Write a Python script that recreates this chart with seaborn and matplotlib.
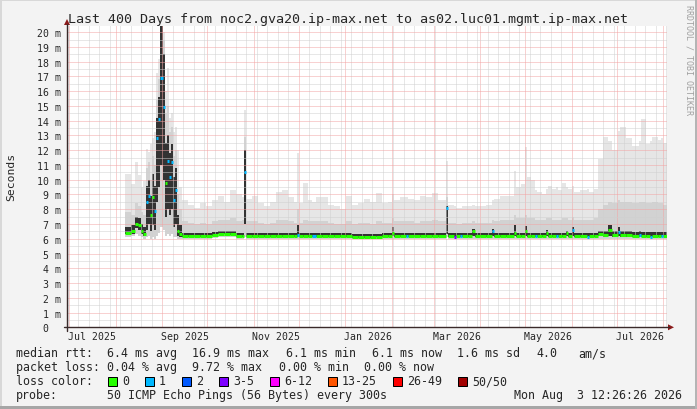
import numpy as np
import pandas as pd
import matplotlib
matplotlib.use("Agg")
import matplotlib.pyplot as plt
import matplotlib.ticker as mticker
import matplotlib.transforms as mtrans
from matplotlib.patches import Rectangle, Polygon
from matplotlib.lines import Line2D
import seaborn as sns
from datetime import datetime, timedelta

# ---------------- data ----------------
period_days = 400
end_time = datetime(2026, 8, 3, 12, 26, 26)

# start of each step, in days since the start of the 400-day window
day = [
    38.7, 42.7, 45.3, 47.3, 49.3, 50.7, 52.7, 54.0, 55.3, 56.7,
    58.0, 59.3, 60.7, 62.0, 64.0, 65.3, 66.7, 68.0, 69.3, 70.7,
    72.0, 73.3, 74.7, 76.7, 80.7, 84.7, 88.7, 92.7, 96.7, 100.7,
    104.7, 108.7, 112.7, 116.7, 117.7, 119.3, 123.3, 127.3, 131.3, 135.3,
    139.3, 143.3, 147.3, 151.3, 153.3, 154.7, 157.3, 160.7, 163.3, 166.0,
    170.0, 174.0, 178.0, 182.0, 186.0, 190.0, 194.0, 198.0, 202.0, 206.0,
    210.0, 214.0, 216.7, 218.0, 222.0, 226.0, 227.3, 231.3, 235.3, 239.3,
    243.3, 247.3, 252.7, 254.0, 258.0, 259.3, 262.0, 263.3, 267.3, 270.3,
    271.7, 275.3, 279.3, 283.3, 284.7, 288.7, 292.7, 298.0, 299.3, 302.7,
    305.3, 306.7, 309.3, 312.0, 313.3, 316.7, 319.3, 320.7, 323.3, 326.0,
    327.3, 330.0, 332.7, 334.0, 336.7, 338.0, 342.0, 346.7, 348.0, 351.3,
    354.0, 357.3, 360.7, 363.3, 367.3, 368.7, 372.7, 376.7, 381.3, 382.7,
    386.0, 388.7, 390.0, 394.0, 396.0, 397.3]

rtt_median_ms = [
    6.4, 6.5, 7.0, 6.9, 6.5, 6.3, 8.5, 8.9, 7.6, 8.8,
    7.9, 12.8, 14.1, 16.9, 14.9, 9.8, 11.3, 10.2, 11.2, 8.6,
    9.3, 6.5, 6.3, 6.2, 6.2, 6.2, 6.2, 6.2, 6.25, 6.35,
    6.35, 6.3, 6.2, 6.2, 10.5, 6.2, 6.2, 6.2, 6.2, 6.2,
    6.2, 6.2, 6.2, 6.2, 6.25, 6.2, 6.2, 6.2, 6.2, 6.2,
    6.2, 6.2, 6.2, 6.2, 6.2, 6.1, 6.1, 6.1, 6.1, 6.15,
    6.2, 6.2, 6.4, 6.2, 6.2, 6.2, 6.2, 6.2, 6.2, 6.2,
    6.2, 6.2, 8.1, 6.2, 6.15, 6.2, 6.2, 6.2, 6.2, 6.5,
    6.2, 6.2, 6.2, 6.5, 6.2, 6.2, 6.2, 6.4, 6.2, 6.2,
    6.5, 6.2, 6.2, 6.2, 6.2, 6.2, 6.4, 6.2, 6.2, 6.2,
    6.2, 6.2, 6.4, 6.2, 6.6, 6.2, 6.2, 6.15, 6.2, 6.2,
    6.3, 6.25, 6.6, 6.25, 6.45, 6.25, 6.25, 6.2, 6.25, 6.2,
    6.2, 6.15, 6.2, 6.2, 6.2, 6.2]

lost_pings = [
    0, 0, 0, 0, 0, 0, 1, 1, 0, 0,
    1, 1, 1, 1, 1, 0, 1, 1, 1, 1,
    1, 0, 0, 0, 0, 0, 0, 0, 0, 0,
    0, 0, 0, 0, 1, 0, 0, 0, 0, 0,
    0, 0, 0, 0, 1, 0, 0, 0, 1, 0,
    0, 0, 0, 0, 0, 0, 0, 0, 0, 0,
    0, 0, 0, 0, 0, 1, 0, 0, 0, 0,
    0, 0, 1, 0, 3, 0, 1, 0, 0, 0,
    0, 0, 0, 1, 0, 0, 0, 0, 0, 0,
    0, 0, 0, 1, 0, 0, 0, 0, 0, 1,
    0, 0, 0, 0, 1, 0, 0, 1, 0, 0,
    0, 0, 0, 0, 1, 0, 0, 0, 1, 0,
    0, 1, 0, 0, 1, 0]

smoke_low_ms = [
    6.1, 6.2, 6.3, 6.2, 6.1, 6.0, 6.1, 6.2, 6.0, 6.1,
    6.0, 6.2, 6.4, 6.8, 6.6, 6.2, 6.3, 6.2, 6.3, 6.1,
    6.1, 6.0, 6.0, 6.0, 6.0, 6.0, 6.0, 6.0, 6.05, 6.1,
    6.1, 6.1, 6.0, 6.0, 6.1, 6.0, 6.0, 6.0, 6.0, 6.0,
    6.0, 6.0, 6.0, 6.0, 6.0, 6.0, 6.0, 6.0, 6.0, 6.0,
    6.0, 6.0, 6.0, 6.0, 6.0, 5.95, 5.95, 5.95, 5.95, 5.95,
    6.0, 6.0, 6.0, 6.0, 6.0, 6.0, 6.0, 6.0, 6.0, 6.0,
    6.0, 6.0, 6.1, 6.0, 6.0, 6.0, 6.0, 6.0, 6.0, 6.0,
    6.0, 6.0, 6.0, 6.0, 6.0, 6.0, 6.0, 6.0, 6.0, 6.0,
    6.0, 6.0, 6.0, 6.0, 6.0, 6.0, 6.0, 6.0, 6.0, 6.0,
    6.0, 6.0, 6.0, 6.0, 6.0, 6.0, 6.0, 6.0, 6.0, 6.0,
    6.0, 6.0, 6.0, 6.0, 6.0, 6.0, 6.0, 6.0, 6.0, 6.0,
    6.0, 6.0, 6.0, 6.0, 6.0, 6.0]

smoke_p25_ms = [
    6.3, 6.35, 6.7, 6.6, 6.3, 6.2, 6.6, 7.0, 6.5, 6.9,
    6.6, 8.5, 9.5, 11.0, 10.0, 7.5, 8.0, 7.6, 8.0, 6.8,
    7.0, 6.2, 6.15, 6.15, 6.15, 6.15, 6.15, 6.15, 6.2, 6.3,
    6.3, 6.25, 6.15, 6.15, 7.0, 6.15, 6.15, 6.15, 6.15, 6.15,
    6.15, 6.15, 6.15, 6.15, 6.15, 6.15, 6.15, 6.15, 6.15, 6.15,
    6.15, 6.15, 6.15, 6.15, 6.15, 6.05, 6.05, 6.05, 6.05, 6.1,
    6.15, 6.15, 6.2, 6.15, 6.15, 6.15, 6.15, 6.15, 6.15, 6.15,
    6.15, 6.15, 6.3, 6.15, 6.1, 6.15, 6.15, 6.15, 6.15, 6.2,
    6.15, 6.15, 6.15, 6.2, 6.15, 6.15, 6.15, 6.2, 6.15, 6.15,
    6.2, 6.15, 6.15, 6.15, 6.15, 6.15, 6.2, 6.15, 6.15, 6.15,
    6.15, 6.15, 6.2, 6.15, 6.2, 6.15, 6.15, 6.1, 6.15, 6.15,
    6.2, 6.15, 6.2, 6.15, 6.2, 6.15, 6.15, 6.15, 6.15, 6.15,
    6.15, 6.1, 6.15, 6.15, 6.15, 6.15]

smoke_p75_ms = [
    6.8, 6.9, 7.5, 7.4, 7.0, 6.8, 9.6, 10.0, 8.9, 10.4,
    9.6, 14.2, 15.6, 21.0, 18.5, 12.5, 13.0, 11.8, 12.4, 10.2,
    10.8, 7.6, 6.9, 6.4, 6.4, 6.4, 6.4, 6.4, 6.45, 6.55,
    6.55, 6.5, 6.4, 6.4, 12.0, 6.4, 6.4, 6.4, 6.4, 6.4,
    6.4, 6.4, 6.4, 6.4, 6.9, 6.4, 6.4, 6.4, 6.4, 6.4,
    6.4, 6.4, 6.4, 6.4, 6.4, 6.3, 6.3, 6.3, 6.3, 6.35,
    6.4, 6.4, 6.8, 6.4, 6.4, 6.4, 6.4, 6.4, 6.4, 6.4,
    6.4, 6.4, 8.2, 6.4, 6.4, 6.4, 6.4, 6.4, 6.4, 6.65,
    6.4, 6.4, 6.4, 6.65, 6.4, 6.4, 6.4, 6.95, 6.4, 6.4,
    6.85, 6.4, 6.4, 6.4, 6.4, 6.4, 6.6, 6.4, 6.4, 6.4,
    6.4, 6.4, 6.55, 6.4, 6.8, 6.4, 6.4, 6.4, 6.4, 6.4,
    6.55, 6.5, 6.9, 6.5, 6.8, 6.5, 6.5, 6.45, 6.5, 6.45,
    6.45, 6.45, 6.45, 6.45, 6.45, 6.45]

smoke_p90_ms = [
    7.8, 7.6, 8.4, 8.2, 7.8, 7.6, 10.8, 11.2, 10.0, 11.6,
    11.0, 15.4, 16.8, 21.0, 19.5, 14.5, 15.0, 13.2, 13.6, 11.6,
    12.0, 9.0, 8.0, 7.2, 7.1, 7.0, 7.1, 7.0, 7.2, 7.3,
    7.3, 7.4, 7.2, 7.3, 12.9, 7.2, 7.2, 7.1, 7.0, 7.1,
    7.3, 7.3, 7.2, 7.1, 8.0, 7.1, 7.3, 7.2, 7.2, 7.2,
    7.2, 7.1, 7.0, 7.0, 7.2, 7.0, 7.1, 7.1, 7.0, 7.2,
    7.1, 7.1, 7.4, 7.2, 7.2, 7.2, 7.2, 7.1, 7.2, 7.2,
    7.3, 7.2, 8.8, 7.1, 7.1, 7.0, 7.0, 7.1, 7.1, 7.2,
    7.1, 7.1, 7.1, 7.3, 7.2, 7.3, 7.3, 7.6, 7.4, 7.4,
    7.6, 7.4, 7.4, 7.3, 7.3, 7.3, 7.4, 7.4, 7.3, 7.3,
    7.3, 7.4, 7.4, 7.3, 7.5, 7.3, 7.3, 7.3, 7.3, 7.4,
    8.0, 8.3, 8.5, 8.4, 8.6, 8.5, 8.5, 8.4, 8.5, 8.5,
    8.4, 8.4, 8.5, 8.4, 8.4, 8.3]

smoke_max_ms = [
    10.4, 9.7, 11.2, 10.3, 9.5, 9.9, 12.1, 11.9, 12.4, 12.8,
    13.2, 17.2, 18.2, 21.0, 20.0, 16.0, 17.6, 14.2, 14.5, 13.2,
    13.6, 12.0, 9.5, 8.6, 8.3, 8.1, 8.4, 8.2, 8.6, 8.9,
    8.5, 9.3, 9.0, 8.8, 14.7, 8.7, 8.9, 8.4, 8.2, 8.5,
    9.2, 9.3, 8.8, 8.5, 11.8, 8.4, 9.8, 8.6, 8.5, 8.8,
    8.8, 8.3, 8.2, 8.0, 8.9, 8.3, 8.4, 8.7, 8.5, 9.1,
    8.4, 8.5, 9.0, 8.6, 8.8, 8.8, 8.7, 8.6, 8.9, 8.8,
    9.1, 8.6, 11.3, 8.3, 8.2, 8.1, 8.1, 8.2, 8.2, 8.3,
    8.2, 8.2, 8.3, 8.6, 8.7, 8.9, 8.9, 10.6, 9.5, 9.7,
    12.2, 10.2, 10.0, 9.3, 9.2, 9.0, 9.4, 9.6, 9.4, 9.5,
    9.3, 9.8, 9.5, 9.4, 9.6, 9.2, 9.3, 9.4, 9.2, 9.4,
    11.4, 12.9, 12.6, 12.0, 13.3, 13.6, 12.8, 12.3, 12.6, 14.1,
    12.4, 12.6, 12.9, 12.7, 12.8, 12.5]

loss_classes = ["0", "1", "2", "3-5", "6-12", "13-25", "26-49", "50/50"]
loss_class_max = [0, 1, 2, 5, 12, 25, 49, 50]
loss_colors = ["#26ff00", "#00b8ff", "#0059ff", "#7e00ff", "#ff00ff",
               "#ff5500", "#ff0000", "#a10000"]

x_label_months = [(2025, 7), (2025, 9), (2025, 11), (2026, 1), (2026, 3), (2026, 5), (2026, 7)]
x_tick_labels = ["Jul 2025", "Sep 2025", "Nov 2025", "Jan 2026", "Mar 2026", "May 2026", "Jul 2026"]
y_tick_values = list(range(0, 21))
y_tick_labels = ["0  "] + [f"{v} m" for v in range(1, 21)]

title = "Last 400 Days from noc2.gva20.ip-max.net to as02.luc01.mgmt.ip-max.net"
median_stats = ["6.4 ms avg", "16.9 ms max", "6.1 ms min", "6.1 ms now", "1.6 ms sd", "4.0", "am/s"]
loss_stats = ["0.04 % avg", "9.72 % max", "0.00 % min", "0.00 % now"]
probe_text = "50 ICMP Echo Pings (56 Bytes) every 300s"
stamp_text = "Mon Aug  3 12:26:26 2026"

# ---------------- figure ----------------
W, H = 697, 410
sns.set_style("white")
plt.rcParams["font.family"] = ["DejaVu Sans Mono"]
fig = plt.figure(figsize=(W / 100, H / 100), dpi=100)
fig.patch.set_facecolor("#f3f3f3")


def fx(x):
    return x / W


def fy(y):
    return 1 - y / H


X0, X1, YB, YT = 67, 667, 328.3, 26.5
ax = fig.add_axes([fx(X0), fy(YB), (X1 - X0) / W, (YB - YT) / H])
ax.set_facecolor("white")
for s in ax.spines.values():
    s.set_visible(False)

start_time = end_time - timedelta(days=period_days)


def to_day(dt):
    return (dt - start_time).total_seconds() / 86400.0


x_edges = np.append(np.asarray(day, float), period_days)


def ext(a):
    a = np.asarray(a, float)
    return np.append(a, a[-1])


# smoke
ax.fill_between(x_edges, ext(smoke_low_ms), ext(smoke_max_ms), step="post",
                color="#e6e6e6", lw=0, zorder=1)
ax.fill_between(x_edges, ext(smoke_low_ms), ext(smoke_p90_ms), step="post",
                color="#d2d2d2", lw=0, zorder=1.1)
ax.fill_between(x_edges, ext(smoke_p25_ms), ext(smoke_p75_ms), step="post",
                color="#333333", lw=0, zorder=1.2)


def loss_class(n):
    for c, m in zip(loss_classes, loss_class_max):
        if n <= m:
            return c
    return loss_classes[-1]


rows = []
for i in range(len(day)):
    c = loss_class(lost_pings[i])
    rows.append(dict(day=x_edges[i], rtt=rtt_median_ms[i], seg=i, loss=c))
    rows.append(dict(day=x_edges[i + 1], rtt=rtt_median_ms[i], seg=i, loss=c))
df = pd.DataFrame(rows)
sns.lineplot(data=df, x="day", y="rtt", hue="loss", units="seg", estimator=None,
             hue_order=loss_classes, palette=dict(zip(loss_classes, loss_colors)),
             linewidth=2.2, legend=False, sort=False, ax=ax, zorder=3,
             solid_capstyle="butt")

ax.set_xlim(0, period_days)
ax.set_ylim(0, 20.45)
ax.set_xlabel("")
ax.set_ylabel("")

# x ticks: month starts (major), weeks (minor)
month_starts = []
y, m = start_time.year, start_time.month
while True:
    d = datetime(y, m, 1)
    if d > end_time:
        break
    if d >= start_time:
        month_starts.append(to_day(d))
    m += 1
    if m > 12:
        m, y = 1, y + 1
weeks = []
d = datetime(start_time.year, start_time.month, start_time.day) + timedelta(days=1)
while d.weekday() != 0:
    d += timedelta(days=1)
while d < end_time:
    weeks.append(to_day(d))
    d += timedelta(days=7)
ax.xaxis.set_major_locator(mticker.FixedLocator(month_starts))
ax.xaxis.set_major_formatter(mticker.NullFormatter())
ax.xaxis.set_minor_locator(mticker.FixedLocator(weeks))
ax.set_yticks(y_tick_values, labels=y_tick_labels)
ax.yaxis.set_minor_locator(mticker.MultipleLocator(0.5))

ax.tick_params(axis="x", which="major", length=2.2, width=0.72, color="#333333", direction="out")
ax.tick_params(axis="x", which="minor", length=0)
ax.tick_params(axis="y", which="major", length=2.2, width=0.72, color="#333333",
               direction="out", pad=2.4, labelsize=7.1)
ax.tick_params(axis="y", which="minor", length=0)

ax.grid(True, which="major", color="#f2a4a4", linestyle=(0, (1, 1)), linewidth=0.72)
ax.grid(True, which="minor", color="#d0d0d0", linestyle=(0, (1, 1)), linewidth=0.72)
ax.set_axisbelow(False)

# month labels centred in their month
xtrans = mtrans.blended_transform_factory(ax.transData, ax.transAxes)
lab_y = (YB - 337.5) / (YB - YT)
for (yy, mm), txt in zip(x_label_months, x_tick_labels):
    a = to_day(datetime(yy, mm, 1))
    ny, nm = (yy + 1, 1) if mm == 12 else (yy, mm + 1)
    b = to_day(datetime(ny, nm, 1))
    ax.text((a + b) / 2, lab_y, txt, transform=xtrans, ha="center", va="center",
            fontsize=7.1, clip_on=False)

# axis lines with arrows
axis_col = "#3a2a2a"
arrow_col = "#8b1a1a"
fig.add_artist(Line2D([fx(X0), fx(X0)], [fy(331.5), fy(25)], color=axis_col, lw=1.0))
fig.add_artist(Line2D([fx(64), fx(669)], [fy(YB), fy(YB)], color=axis_col, lw=1.0))
fig.add_artist(Polygon([(fx(64), fy(26)), (fx(70), fy(26)), (fx(67), fy(20))],
                       closed=True, color=arrow_col, lw=0))
fig.add_artist(Polygon([(fx(668), fy(YB - 3)), (fx(668), fy(YB + 3)), (fx(674), fy(YB))],
                       closed=True, color=arrow_col, lw=0))

# titles
fig.text(0.5, fy(22.5), title, ha="center", va="baseline", fontsize=9.6)
fig.text(fx(11), fy((YB + YT) / 2), "Seconds", rotation=90, ha="center", va="center", fontsize=8.2)
fig.text(fx(688.5), fy(5), "RRDTOOL / TOBI OETIKER", rotation=270, ha="center", va="top",
         fontsize=6, color="#a0a0a0")

# legend block
LF = 8.37
rows_base = [357.5, 371.5, 385.5, 399.5]
fig.text(fx(16), fy(rows_base[0]), "median rtt:", va="baseline", fontsize=LF)
for txt, xp in zip(median_stats, [107, 192, 286, 372, 457, 536, 578]):
    fig.text(fx(xp), fy(rows_base[0]), txt, va="baseline", fontsize=LF)
fig.text(fx(16), fy(rows_base[1]), "packet loss:", va="baseline", fontsize=LF)
for txt, xp in zip(loss_stats, [107, 192, 279, 364]):
    fig.text(fx(xp), fy(rows_base[1]), txt, va="baseline", fontsize=LF)
fig.text(fx(16), fy(rows_base[2]), "loss color:", va="baseline", fontsize=LF)
for c, col, xp in zip(loss_classes, loss_colors, [108, 145, 182, 219, 270, 328, 393, 458]):
    fig.add_artist(Rectangle((fx(xp), fy(386.5)), 9 / W, 9 / H, facecolor=col,
                             edgecolor="black", lw=0.72))
    fig.text(fx(xp + 14), fy(rows_base[2]), c, va="baseline", fontsize=LF)
fig.text(fx(16), fy(rows_base[3]), "probe:", va="baseline", fontsize=LF)
fig.text(fx(107), fy(rows_base[3]), probe_text, va="baseline", fontsize=LF)
fig.text(fx(682), fy(rows_base[3]), stamp_text, va="baseline", ha="right", fontsize=LF)

# 3D frame
fig.add_artist(Rectangle((0, fy(2)), 1, 2 / H, facecolor="#d8d8d8", lw=0))
fig.add_artist(Rectangle((0, 0), 2 / W, 1, facecolor="#d8d8d8", lw=0))
fig.add_artist(Rectangle((0, 0), 1, 3 / H, facecolor="#a6a6a6", lw=0))
fig.add_artist(Rectangle((fx(695), 0), 2 / W, 1, facecolor="#b4b4b4", lw=0))

fig.savefig("out.png", dpi=100, facecolor=fig.get_facecolor())
